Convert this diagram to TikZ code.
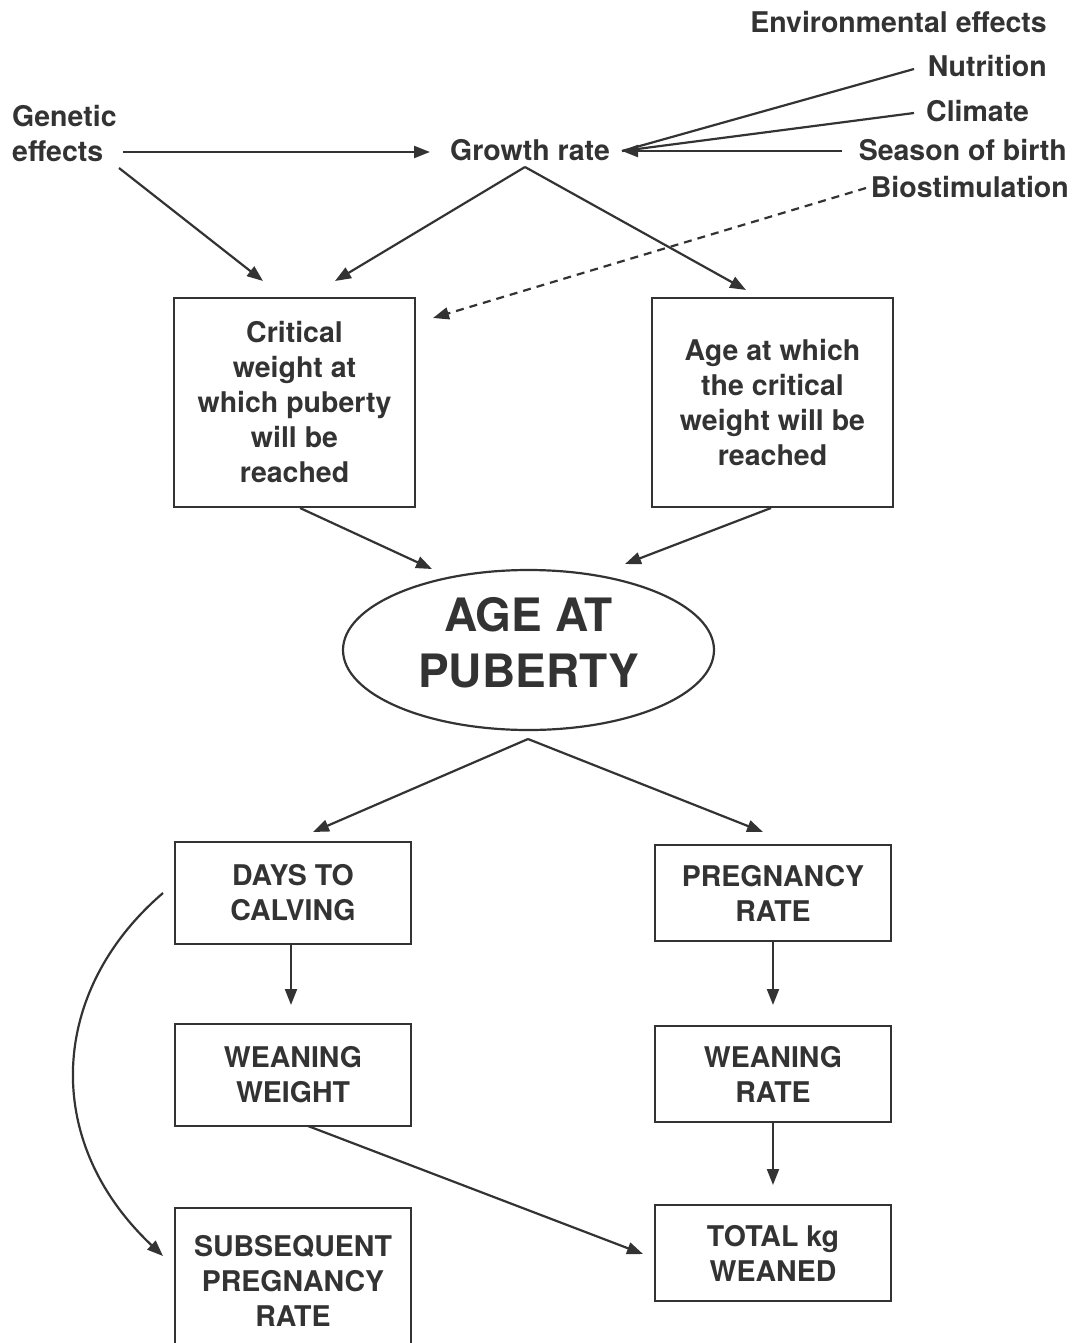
\documentclass[tikz,border=0pt]{standalone}
\usepackage{fontspec}
\setmainfont{TeX Gyre Heros}
\usetikzlibrary{arrows.meta,shapes.geometric,calc}
\definecolor{ink}{HTML}{333333}
\begin{document}
\begin{tikzpicture}[x=1pt,y=-1pt,
  lbl/.style={inner sep=0pt, text=ink, font=\fontsize{28.5}{35}\selectfont\bfseries},
  box/.style={draw=ink, line width=2.2pt, align=center, inner sep=0pt, text=ink,
    font=\fontsize{28.5}{35}\selectfont\bfseries, minimum width=236pt},
  ln/.style={draw=ink, line width=2.2pt},
  arr/.style={ln, -{Triangle[length=16pt,width=12pt]}},
  dsh/.style={arr, dash pattern=on 8pt off 6pt}]
\useasboundingbox (0,0) rectangle (1073,1343);

% labels
\node[lbl,anchor=east] (env) at (1047,22) {Environmental effects};
\node[lbl,anchor=east] (nut) at (1047,66) {Nutrition};
\node[lbl,anchor=west] (cli) at (926,111) {Climate};
\node[lbl,anchor=east] (sea) at (1067,150) {Season of birth};
\node[lbl,anchor=east] (bio) at (1069,187) {Biostimulation};
\node[lbl,anchor=west,align=left] (gen) at (12,134) {Genetic\\effects};
\node[lbl] (gr) at (530,150) {Growth rate};

% boxes
\node[box,minimum width=241pt,minimum height=209pt] (crit) at (294.5,402.5)
  {Critical\\weight at\\which puberty\\will be\\reached};
\node[box,minimum width=241pt,minimum height=209pt] (agew) at (772.5,402.5)
  {Age at which\\the critical\\weight will be\\reached};
\node[draw=ink,line width=2.2pt,ellipse,minimum width=371pt,minimum height=160pt,inner sep=0pt] (pub) at (528.5,650) {};
\node[inner sep=0pt,align=center,text=ink,font=\fontsize{46}{56}\selectfont\bfseries] (pubtxt) at (528.5,643)
  {AGE AT\\PUBERTY};
\node[box,minimum height=102pt] (days) at (293,893) {DAYS TO\\CALVING};
\node[box,minimum height=96pt] (preg) at (773,893) {PREGNANCY\\RATE};
\node[box,minimum height=102pt] (ww) at (293,1075) {WEANING\\WEIGHT};
\node[box,minimum height=96pt] (wr) at (773,1074) {WEANING\\RATE};
\node[box,minimum height=96pt] (tot) at (773,1253) {TOTAL kg\\WEANED};
\node[box,minimum height=146pt] (sub) at (293,1281) {SUBSEQUENT\\PREGNANCY\\RATE};

% connector end points
\coordinate (genR) at (123,152);
\coordinate (grL) at (430,152);
\coordinate (grR) at (622,151);
\coordinate (nutL) at (914,69);
\coordinate (cliL) at (914,113);
\coordinate (seaL) at (842,151);
\coordinate (bioL) at (866,188);
\coordinate (critDash) at (433,318);
\coordinate (genB) at (119,168);
\coordinate (critA) at (263,281);
\coordinate (grB) at (525,167);
\coordinate (critB) at (335,281);
\coordinate (ageA) at (746,290);
\coordinate (critS) at (300,508);
\coordinate (pubA) at (432,569);
\coordinate (ageS) at (771,508);
\coordinate (pubB) at (625,564);
\coordinate (pubS) at (528,739);
\coordinate (daysN) at (313,832);
\coordinate (pregN) at (763,832);
\coordinate (daysS) at (291,944);
\coordinate (wwN) at (291,1005);
\coordinate (pregS) at (773,941);
\coordinate (wrN) at (773,1005);
\coordinate (wrS) at (773,1122);
\coordinate (totN) at (773,1185);
\coordinate (wwS) at (308,1126);
\coordinate (totW) at (643,1254);
\coordinate (daysW) at (163,893);
\coordinate (subW) at (163,1256);

% connectors
\draw[arr] (genR) -- (grL);
\draw[ln] (nutL) -- (grR);
\draw[ln] (cliL) -- (grR);
\draw[arr] (seaL) -- (grR);
\draw[dsh] (bioL) -- (critDash);
\draw[arr] (genB) -- (critA);
\draw[arr] (grB) -- (critB);
\draw[arr] (grB) -- (ageA);
\draw[arr] (critS) -- (pubA);
\draw[arr] (ageS) -- (pubB);
\draw[arr] (pubS) -- (daysN);
\draw[arr] (pubS) -- (pregN);
\draw[arr] (daysS) -- (wwN);
\draw[arr] (pregS) -- (wrN);
\draw[arr] (wrS) -- (totN);
\draw[arr] (wwS) -- (totW);
\draw[arr] (daysW) .. controls (50,990) and (40,1140) .. (subW);
\end{tikzpicture}
\end{document}
